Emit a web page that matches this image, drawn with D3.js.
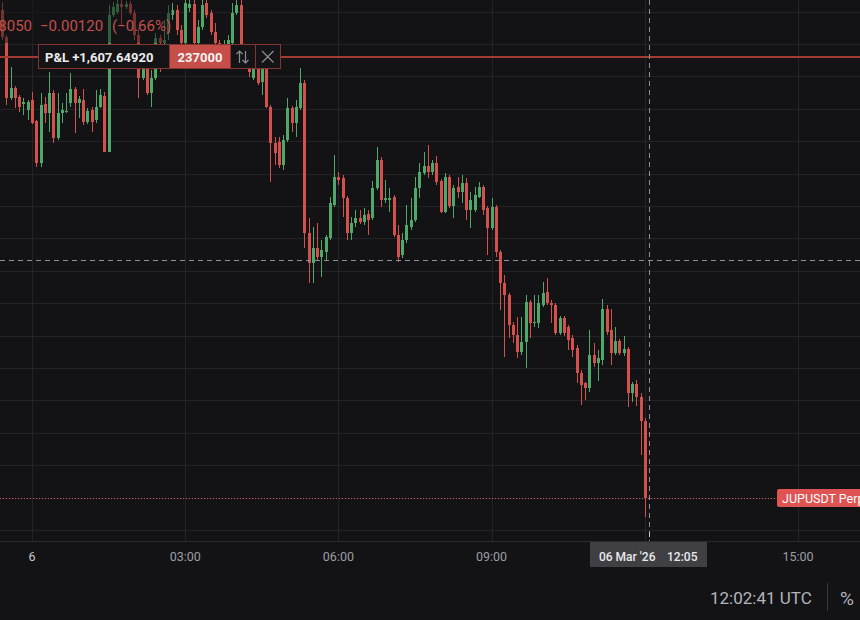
<!DOCTYPE html>
<html>
<head>
<meta charset="utf-8">
<script src="https://cdn.jsdelivr.net/npm/d3@7"></script>
<style>
    html, body { margin: 0; padding: 0; background: #131316; }
    svg { display: block; font-family: Roboto, "Noto Sans", sans-serif; }
</style>
</head>
<body>
<svg id="chart" width="860" height="620"></svg>
<script>
// JUPUSDT Perp, 5 minute candles, first one opens 05 Mar '26 23:25 UTC
var firstCandle = Date.UTC(2026, 2, 5, 23, 25);
var candleStep = 5 * 60 * 1000;

var opens = [
    0.18803, 0.18761, 0.18667, 0.18682, 0.18668, 0.18658, 0.18648, 0.18664, 0.18631, 0.18566,
    0.18658, 0.18644, 0.18674, 0.18605, 0.18644, 0.18645, 0.18659, 0.18681, 0.18659, 0.18664,
    0.18630, 0.18648, 0.18633, 0.18653, 0.18670, 0.18583, 0.18795, 0.18799, 0.18812, 0.18807,
    0.18812, 0.18798, 0.18764, 0.18698, 0.18725, 0.18674, 0.18698, 0.18759, 0.18752, 0.18767,
    0.18795, 0.18803, 0.18772, 0.18752, 0.18806, 0.18812, 0.18752, 0.18776, 0.18813, 0.18798,
    0.18769, 0.18752, 0.18733, 0.18749, 0.18752, 0.18798, 0.18810, 0.18744, 0.18725, 0.18698,
    0.18713, 0.18691, 0.18713, 0.18653, 0.18597, 0.18599, 0.18563, 0.18602, 0.18651, 0.18628,
    0.18651, 0.18690, 0.18458, 0.18412, 0.18435, 0.18421, 0.18429, 0.18451, 0.18502, 0.18545,
    0.18543, 0.18512, 0.18458, 0.18474, 0.18482, 0.18475, 0.18488, 0.18482, 0.18528, 0.18571,
    0.18509, 0.18509, 0.18514, 0.18455, 0.18424, 0.18448, 0.18468, 0.18478, 0.18528, 0.18551,
    0.18562, 0.18553, 0.18566, 0.18539, 0.18491, 0.18545, 0.18500, 0.18529, 0.18522, 0.18536,
    0.18494, 0.18494, 0.18514, 0.18529, 0.18497, 0.18466, 0.18499, 0.18429, 0.18381, 0.18363,
    0.18316, 0.18301, 0.18275, 0.18290, 0.18352, 0.18320, 0.18320, 0.18347, 0.18367, 0.18350,
    0.18347, 0.18304, 0.18327, 0.18313, 0.18296, 0.18281, 0.18242, 0.18227, 0.18219, 0.18270,
    0.18258, 0.18262, 0.18341, 0.18309, 0.18273, 0.18292, 0.18273, 0.18279, 0.18212, 0.18225,
    0.18205, 0.18168
];
var highs = [
    0.18815, 0.18764, 0.18715, 0.18685, 0.18671, 0.18667, 0.18664, 0.18676, 0.18633, 0.18674,
    0.18668, 0.18707, 0.18679, 0.18674, 0.18659, 0.18674, 0.18705, 0.18684, 0.18670, 0.18681,
    0.18651, 0.18653, 0.18679, 0.18681, 0.18676, 0.18810, 0.18815, 0.18818, 0.18818, 0.18816,
    0.18816, 0.18803, 0.18775, 0.18749, 0.18749, 0.18710, 0.18767, 0.18764, 0.18787, 0.18810,
    0.18813, 0.18810, 0.18779, 0.18818, 0.18818, 0.18818, 0.18787, 0.18818, 0.18818, 0.18803,
    0.18783, 0.18756, 0.18756, 0.18764, 0.18813, 0.18818, 0.18818, 0.18749, 0.18733, 0.18718,
    0.18722, 0.18722, 0.18718, 0.18656, 0.18607, 0.18607, 0.18610, 0.18667, 0.18654, 0.18664,
    0.18713, 0.18695, 0.18482, 0.18468, 0.18474, 0.18448, 0.18455, 0.18514, 0.18579, 0.18553,
    0.18548, 0.18516, 0.18483, 0.18494, 0.18494, 0.18497, 0.18494, 0.18539, 0.18591, 0.18576,
    0.18540, 0.18528, 0.18517, 0.18471, 0.18458, 0.18502, 0.18512, 0.18545, 0.18566, 0.18583,
    0.18594, 0.18571, 0.18577, 0.18542, 0.18551, 0.18548, 0.18533, 0.18545, 0.18548, 0.18543,
    0.18522, 0.18529, 0.18537, 0.18533, 0.18500, 0.18512, 0.18502, 0.18432, 0.18394, 0.18366,
    0.18321, 0.18329, 0.18329, 0.18363, 0.18355, 0.18363, 0.18363, 0.18383, 0.18389, 0.18355,
    0.18350, 0.18330, 0.18330, 0.18316, 0.18301, 0.18286, 0.18247, 0.18229, 0.18309, 0.18289,
    0.18278, 0.18357, 0.18347, 0.18341, 0.18313, 0.18295, 0.18299, 0.18283, 0.18229, 0.18232,
    0.18212, 0.18173
];
var lows = [
    0.18756, 0.18656, 0.18664, 0.18651, 0.18645, 0.18641, 0.18633, 0.18627, 0.18560, 0.18560,
    0.18628, 0.18614, 0.18597, 0.18602, 0.18628, 0.18644, 0.18653, 0.18613, 0.18636, 0.18625,
    0.18627, 0.18614, 0.18628, 0.18651, 0.18583, 0.18583, 0.18792, 0.18796, 0.18779, 0.18804,
    0.18795, 0.18756, 0.18667, 0.18695, 0.18671, 0.18653, 0.18695, 0.18707, 0.18741, 0.18756,
    0.18787, 0.18764, 0.18741, 0.18749, 0.18799, 0.18730, 0.18749, 0.18772, 0.18790, 0.18764,
    0.18749, 0.18725, 0.18722, 0.18741, 0.18749, 0.18795, 0.18733, 0.18718, 0.18699, 0.18695,
    0.18687, 0.18671, 0.18651, 0.18537, 0.18563, 0.18559, 0.18556, 0.18599, 0.18614, 0.18607,
    0.18648, 0.18435, 0.18381, 0.18381, 0.18417, 0.18391, 0.18417, 0.18448, 0.18499, 0.18533,
    0.18483, 0.18448, 0.18448, 0.18468, 0.18472, 0.18471, 0.18455, 0.18478, 0.18525, 0.18499,
    0.18505, 0.18491, 0.18452, 0.18414, 0.18420, 0.18443, 0.18463, 0.18475, 0.18512, 0.18548,
    0.18543, 0.18548, 0.18533, 0.18489, 0.18489, 0.18497, 0.18482, 0.18512, 0.18505, 0.18478,
    0.18466, 0.18491, 0.18512, 0.18486, 0.18424, 0.18463, 0.18421, 0.18340, 0.18267, 0.18296,
    0.18289, 0.18266, 0.18270, 0.18250, 0.18296, 0.18313, 0.18312, 0.18344, 0.18347, 0.18320,
    0.18301, 0.18301, 0.18299, 0.18278, 0.18267, 0.18227, 0.18193, 0.18201, 0.18213, 0.18252,
    0.18230, 0.18255, 0.18301, 0.18255, 0.18270, 0.18270, 0.18269, 0.18190, 0.18198, 0.18191,
    0.18116, 0.18020
];
var closes = [
    0.18761, 0.18667, 0.18682, 0.18667, 0.18653, 0.18661, 0.18661, 0.18628, 0.18566, 0.18656,
    0.18644, 0.18674, 0.18605, 0.18644, 0.18648, 0.18647, 0.18681, 0.18659, 0.18665, 0.18630,
    0.18647, 0.18630, 0.18653, 0.18671, 0.18583, 0.18795, 0.18807, 0.18812, 0.18807, 0.18812,
    0.18798, 0.18764, 0.18698, 0.18713, 0.18674, 0.18698, 0.18759, 0.18752, 0.18756, 0.18798,
    0.18803, 0.18772, 0.18752, 0.18813, 0.18812, 0.18752, 0.18776, 0.18810, 0.18795, 0.18769,
    0.18752, 0.18733, 0.18749, 0.18756, 0.18798, 0.18810, 0.18744, 0.18725, 0.18707, 0.18713,
    0.18690, 0.18713, 0.18653, 0.18597, 0.18582, 0.18563, 0.18602, 0.18651, 0.18628, 0.18653,
    0.18690, 0.18458, 0.18412, 0.18435, 0.18421, 0.18432, 0.18452, 0.18505, 0.18545, 0.18540,
    0.18512, 0.18458, 0.18474, 0.18482, 0.18475, 0.18486, 0.18478, 0.18528, 0.18571, 0.18509,
    0.18512, 0.18512, 0.18455, 0.18421, 0.18448, 0.18471, 0.18478, 0.18528, 0.18553, 0.18562,
    0.18553, 0.18566, 0.18537, 0.18491, 0.18545, 0.18500, 0.18528, 0.18522, 0.18536, 0.18494,
    0.18509, 0.18517, 0.18529, 0.18494, 0.18466, 0.18499, 0.18429, 0.18381, 0.18363, 0.18316,
    0.18301, 0.18275, 0.18290, 0.18352, 0.18320, 0.18321, 0.18350, 0.18366, 0.18350, 0.18347,
    0.18304, 0.18327, 0.18304, 0.18293, 0.18278, 0.18242, 0.18224, 0.18219, 0.18270, 0.18258,
    0.18266, 0.18341, 0.18306, 0.18273, 0.18292, 0.18273, 0.18279, 0.18212, 0.18225, 0.18205,
    0.18168, 0.18050
];

// position and header values
var entryPrice = 0.18730;
var pnlValue = 1607.6492;
var positionSize = 237000;
var dayChange = -0.00120;
var dayChangePct = -0.66;
var crosshairTime = new Date(Date.UTC(2026, 2, 6, 12, 5));
var crosshairPrice = 0.18416;
var clockText = '12:02:41 UTC';
var symbolName = 'JUPUSDT Perp';

var W = 860, H = 620, plotBottom = 541;
var bg = '#131316', gridColor = '#232328';
var upColor = '#4fa769', downColor = '#d4504d';

var candles = opens.map(function(o, i) {
    return {t: new Date(firstCandle + i * candleStep), o: o, h: highs[i], l: lows[i], c: closes[i]};
});
var lastClose = closes[closes.length - 1];

var svg = d3.select('#chart');
svg.append('rect').attr('width', W).attr('height', H).attr('fill', bg);

var x = d3.scaleUtc()
    .domain([new Date(Date.UTC(2026, 2, 6, 0)), new Date(Date.UTC(2026, 2, 6, 15))])
    .range([32, 798]);
var y = d3.scaleLinear()
    .domain([0.18800, 0.18050])
    .range([11.6, 497.6]);
var crisp = function(v) { return Math.round(v) + 0.5; };

svg.append('clipPath').attr('id', 'plot-clip')
    .append('rect').attr('width', W).attr('height', plotBottom);
var plot = svg.append('g').attr('clip-path', 'url(#plot-clip)');

// grid
plot.selectAll('.hgrid')
    .data(d3.ticks(0.1797, 0.1883, 17))
    .enter().append('line')
    .attr('class', 'hgrid')
    .attr('x1', 0).attr('x2', W)
    .attr('y1', function(d) { return crisp(y(d)); })
    .attr('y2', function(d) { return crisp(y(d)); })
    .attr('stroke', gridColor);
var hourTicks = x.ticks(d3.utcHour.every(3));
plot.selectAll('.vgrid')
    .data(hourTicks)
    .enter().append('line')
    .attr('class', 'vgrid')
    .attr('x1', function(d) { return crisp(x(d)); })
    .attr('x2', function(d) { return crisp(x(d)); })
    .attr('y1', 0).attr('y2', plotBottom)
    .attr('stroke', gridColor);

// candles
var candle = plot.selectAll('.candle')
    .data(candles)
    .enter().append('g')
    .attr('class', 'candle')
    .attr('fill', function(d) { return d.c >= d.o ? upColor : downColor; });
candle.append('rect')   // wick
    .attr('x', function(d) { return Math.round(x(d.t)); })
    .attr('width', 1)
    .attr('y', function(d) { return Math.round(y(d.h)); })
    .attr('height', function(d) { return Math.max(1, Math.round(y(d.l)) - Math.round(y(d.h))); });
candle.append('rect')   // body
    .attr('x', function(d) { return Math.round(x(d.t)) - 1; })
    .attr('width', 3)
    .attr('y', function(d) { return Math.round(y(Math.max(d.o, d.c))); })
    .attr('height', function(d) {
        return Math.max(1, Math.round(y(Math.min(d.o, d.c))) - Math.round(y(Math.max(d.o, d.c))));
    });

// legend backdrop dims the candles under it
plot.append('rect')
    .attr('x', 0).attr('y', 0).attr('width', 172).attr('height', 43)
    .attr('fill', bg).attr('opacity', 0.5);

// position line
plot.append('rect')
    .attr('x', 0).attr('width', W)
    .attr('y', Math.round(y(entryPrice)) - 1).attr('height', 2)
    .attr('fill', '#a33a34');
// last price line
plot.append('line')
    .attr('x1', 0).attr('x2', 777)
    .attr('y1', crisp(y(lastClose))).attr('y2', crisp(y(lastClose)))
    .attr('stroke', '#e05252')
    .attr('stroke-dasharray', '1,2');
// crosshair
plot.append('line')
    .attr('x1', 0).attr('x2', W)
    .attr('y1', crisp(y(crosshairPrice))).attr('y2', crisp(y(crosshairPrice)))
    .attr('stroke', '#8e9096')
    .attr('stroke-dasharray', '5,4');
plot.append('line')
    .attr('x1', crisp(x(crosshairTime))).attr('x2', crisp(x(crosshairTime)))
    .attr('y1', 0).attr('y2', plotBottom)
    .attr('stroke', '#8e9096')
    .attr('stroke-dasharray', '5,4');

// header legend
var legendColor = '#c34f4a';
svg.append('text')
    .attr('x', 32).attr('y', 31)
    .attr('text-anchor', 'end')
    .attr('font-size', 15).attr('fill', legendColor)
    .text(d3.format('.5f')(lastClose));
svg.append('text')
    .attr('x', 40).attr('y', 31)
    .attr('font-size', 15).attr('fill', legendColor)
    .text(d3.format('.5f')(dayChange).replace('-', '\u2212'));
svg.append('text')
    .attr('x', 112).attr('y', 31)
    .attr('font-size', 15).attr('fill', legendColor)
    .text('(' + d3.format('.2f')(dayChangePct).replace('-', '\u2212') + '%)');

// P&L box
var boxBorder = '#83352f';
var pnl = svg.append('g');
pnl.append('rect')
    .attr('x', 38.5).attr('y', 44.5).attr('width', 242).attr('height', 24)
    .attr('fill', '#141417').attr('stroke', boxBorder);
pnl.append('rect')
    .attr('x', 169.5).attr('y', 44.5).attr('width', 61).attr('height', 24)
    .attr('fill', '#c54e48').attr('stroke', boxBorder);
pnl.append('line')
    .attr('x1', 255.5).attr('x2', 255.5).attr('y1', 44.5).attr('y2', 68.5)
    .attr('stroke', boxBorder);
pnl.append('text')
    .attr('x', 45).attr('y', 61.5)
    .attr('font-size', 13).attr('font-weight', 'bold').attr('fill', '#ececee')
    .text('P&L ' + d3.format('+,.5f')(pnlValue));
pnl.append('text')
    .attr('x', 200).attr('y', 61.5)
    .attr('text-anchor', 'middle')
    .attr('font-size', 13).attr('font-weight', 'bold').attr('fill', '#f4f4f5')
    .text(positionSize);
// reverse arrows and close cross
var iconColor = '#8c8e95';
pnl.append('path')
    .attr('d', 'M239.5,51V63M236.5,54L239.5,51L242.5,54M245.5,51V63M242.5,60L245.5,63L248.5,60')
    .attr('fill', 'none').attr('stroke', iconColor).attr('stroke-width', 1.2);
pnl.append('path')
    .attr('d', 'M262,51L273.5,62.5M273.5,51L262,62.5')
    .attr('fill', 'none').attr('stroke', iconColor).attr('stroke-width', 1.2);

// symbol label on the last price
svg.append('rect')
    .attr('x', 777).attr('y', Math.round(y(lastClose)) - 9).attr('width', 100).attr('height', 18)
    .attr('rx', 2).attr('fill', '#e05353');
svg.append('text')
    .attr('x', 782).attr('y', Math.round(y(lastClose)) + 4.5)
    .attr('font-size', 12.5).attr('fill', '#ffffff')
    .text(symbolName);

// time axis
var cx = x(crosshairTime);
var timeBox = {x: 590, w: 117};
svg.append('line')
    .attr('x1', 0).attr('x2', W).attr('y1', plotBottom + 0.5).attr('y2', plotBottom + 0.5)
    .attr('stroke', '#2a2a2f');
// labels under the crosshair time box are hidden
svg.selectAll('.tlabel')
    .data(hourTicks.filter(function(d) {
        return x(d) < timeBox.x - 15 || x(d) > timeBox.x + timeBox.w + 15;
    }))
    .enter().append('text')
    .attr('class', 'tlabel')
    .attr('x', function(d) { return x(d); })
    .attr('y', 561)
    .attr('text-anchor', 'middle')
    .attr('font-size', 12.5)
    .attr('fill', function(d) { return d.getUTCHours() === 0 ? '#c6c8cd' : '#9b9da4'; })
    .text(function(d) {
        return d.getUTCHours() === 0 ? String(d.getUTCDate()) : d3.utcFormat('%H:%M')(d);
    });

// crosshair time label
svg.append('line')
    .attr('x1', crisp(cx)).attr('x2', crisp(cx)).attr('y1', 532).attr('y2', 537)
    .attr('stroke', '#c8c8cc');
svg.append('rect')
    .attr('x', timeBox.x).attr('y', 542).attr('width', timeBox.w).attr('height', 25)
    .attr('fill', '#404044');
svg.append('text')
    .attr('x', 599).attr('y', 561)
    .attr('font-size', 12).attr('font-weight', 500).attr('fill', '#e9e9eb')
    .text(d3.utcFormat("%d %b '%y")(crosshairTime));
svg.append('text')
    .attr('x', 667).attr('y', 561)
    .attr('font-size', 12).attr('font-weight', 500).attr('fill', '#e9e9eb')
    .text(d3.utcFormat('%H:%M')(crosshairTime));

// bottom toolbar
svg.append('text')
    .attr('x', 710).attr('y', 604)
    .attr('font-size', 17).attr('fill', '#b2b5bc')
    .text(clockText);
svg.append('line')
    .attr('x1', 827.5).attr('x2', 827.5).attr('y1', 583).attr('y2', 611)
    .attr('stroke', '#3a3a40');
svg.append('text')
    .attr('x', 840).attr('y', 605)
    .attr('font-size', 19).attr('fill', '#b2b5bc')
    .text('%');
</script>
</body>
</html>
